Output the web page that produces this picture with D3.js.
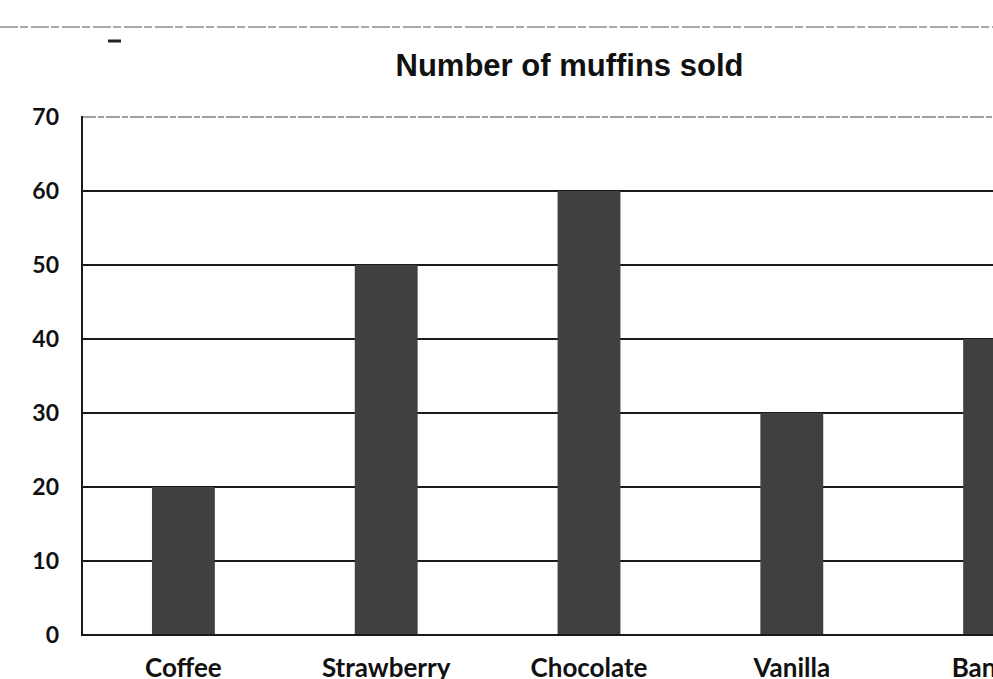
<!DOCTYPE html>
<html>
<head>
<meta charset="utf-8">
<script src="https://cdn.jsdelivr.net/npm/d3@7/dist/d3.min.js"></script>
<style>
  html, body { margin: 0; padding: 0; background: #fff; overflow: hidden; }
</style>
</head>
<body>
<svg id="chart" width="993" height="679"></svg>
<script>
const categories = ["Coffee", "Strawberry", "Chocolate", "Vanilla", "Banana"];
const values = [20, 50, 60, 30, 40];
const yTicks = [0, 10, 20, 30, 40, 50, 60, 70];
const title = "Number of muffins sold";

const svg = d3.select("#chart");
const W = 993, H = 679;

const x = d3.scaleBand()
  .domain(categories)
  .range([82, 1096])
  .paddingInner(0.69)
  .paddingOuter(0.345);

const y = d3.scaleLinear()
  .domain([0, 70])
  .range([635, 117]);

// scan artefact line at top
svg.append("line")
  .attr("x1", 0).attr("x2", W)
  .attr("y1", 27).attr("y2", 27)
  .attr("stroke", "#555")
  .attr("stroke-width", 1.2)
  .attr("stroke-dasharray", "18 2 8 3");
svg.append("line")
  .attr("x1", 108).attr("x2", 121)
  .attr("y1", 41).attr("y2", 41)
  .attr("stroke", "#222")
  .attr("stroke-width", 3);

// gridlines
svg.append("g")
  .selectAll("line")
  .data(yTicks.filter(d => d > 0))
  .join("line")
  .attr("x1", 82).attr("x2", W)
  .attr("y1", d => y(d)).attr("y2", d => y(d))
  .attr("stroke", d => d === 70 ? "#444" : "#1a1a1a")
  .attr("stroke-width", d => d === 70 ? 1.2 : 1.8)
  .attr("stroke-dasharray", d => d === 70 ? "14 2 6 2" : null);

// bars
svg.append("g")
  .selectAll("rect")
  .data(categories.map((c, i) => ({ c, v: values[i] })))
  .join("rect")
  .attr("x", d => x(d.c))
  .attr("y", d => y(d.v))
  .attr("width", x.bandwidth())
  .attr("height", d => y(0) - y(d.v))
  .attr("fill", "#404040");

// baseline
svg.append("line")
  .attr("x1", 82).attr("x2", W)
  .attr("y1", y(0)).attr("y2", y(0))
  .attr("stroke", "#1a1a1a")
  .attr("stroke-width", 2);

// left axis line
svg.append("line")
  .attr("x1", 82).attr("x2", 82)
  .attr("y1", y(70) - 1).attr("y2", y(0) + 1)
  .attr("stroke", "#1a1a1a")
  .attr("stroke-width", 2);

// y tick labels
svg.append("g")
  .selectAll("text")
  .data(yTicks)
  .join("text")
  .attr("x", 59)
  .attr("y", d => y(d))
  .attr("dy", "0.35em")
  .attr("text-anchor", "end")
  .attr("font-family", "Lato, sans-serif")
  .attr("font-weight", "bold")
  .attr("font-size", 23)
  .attr("fill", "#111")
  .text(d => d);

// category labels (at the bottom edge, as in the reference)
svg.append("g")
  .selectAll("text")
  .data(categories)
  .join("text")
  .attr("x", d => x(d) + x.bandwidth() / 2)
  .attr("y", 677)
  .attr("text-anchor", "middle")
  .attr("font-family", "Lato, sans-serif")
  .attr("font-weight", "bold")
  .attr("font-size", 26)
  .attr("fill", "#111")
  .text(d => d);

// title
svg.append("text")
  .attr("x", 569.5)
  .attr("y", 76)
  .attr("text-anchor", "middle")
  .attr("font-family", "'Liberation Sans', Arial, sans-serif")
  .attr("font-weight", "bold")
  .attr("font-size", 31)
  .attr("fill", "#111")
  .text(title);
</script>
</body>
</html>
